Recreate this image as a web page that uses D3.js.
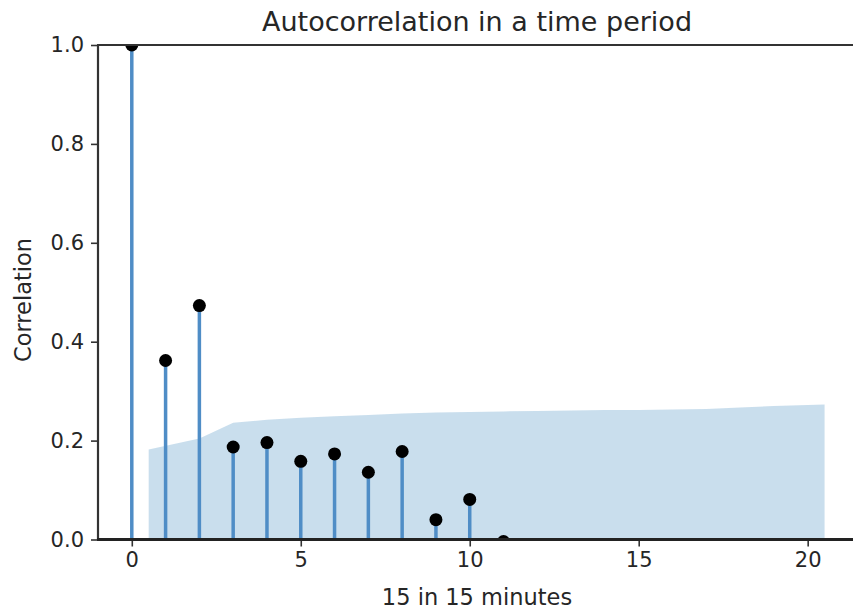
<!DOCTYPE html>
<html lang="en">
<head>
    <meta charset="UTF-8">
    <title>Autocorrelation in a time period</title>
    <script src="https://cdn.jsdelivr.net/npm/d3@7"></script>
    <style>
        body { margin: 0; background: #fff; }
        text { font-family: "DejaVu Sans", sans-serif; fill: #262626; }
        .stem { stroke: #4f8dc6; stroke-width: 3.5; }
        .dot { fill: #000; }
        .band { fill: #1f77b4; fill-opacity: 0.24; }
    </style>
</head>
<body>
    <svg width="853" height="614"></svg>
    <script>
        // autocorrelation by lag (lag 11 sits just under zero)
        var lags = [0, 1, 2, 3, 4, 5, 6, 7, 8, 9, 10, 11];
        var acf = [1.0, 0.362, 0.473, 0.187, 0.196, 0.158, 0.173, 0.136, 0.178, 0.040, 0.081, -0.004];

        // confidence band (upper edge, lower is the mirror)
        var bandLags = [0.5, 2, 3, 4, 5, 6, 7, 8, 9, 10, 11, 12, 13, 14, 15, 16, 17, 18, 19, 20.5];
        var bandUpper = [0.182, 0.204, 0.236, 0.242, 0.246, 0.249, 0.252, 0.255, 0.257, 0.258,
                         0.259, 0.260, 0.261, 0.262, 0.262, 0.263, 0.264, 0.267, 0.270, 0.273];

        var xTicks = [0, 5, 10, 15, 20];
        var yTicks = [0.0, 0.2, 0.4, 0.6, 0.8, 1.0];

        var svg = d3.select("svg"),
            mLeft = 98, mRight = 856, mTop = 45, mBottom = 539.5;

        var x = d3.scaleLinear().domain([-1, 21.43]).range([mLeft, mRight]),
            y = d3.scaleLinear().domain([0, 1]).range([mBottom, mTop]);

        svg.append("clipPath").attr("id", "plotclip")
            .append("rect")
            .attr("x", mLeft).attr("y", mTop)
            .attr("width", mRight - mLeft).attr("height", mBottom - mTop);

        var plot = svg.append("g").attr("clip-path", "url(#plotclip)");

        var band = d3.area()
            .x(function(d, i) { return x(bandLags[i]); })
            .y0(function(d) { return y(-d); })
            .y1(function(d) { return y(d); });

        plot.append("path")
            .datum(bandUpper)
            .attr("class", "band")
            .attr("d", band);

        plot.selectAll(".stem")
            .data(acf)
            .enter().append("line")
            .attr("class", "stem")
            .attr("x1", function(d, i) { return x(lags[i]); })
            .attr("x2", function(d, i) { return x(lags[i]); })
            .attr("y1", y(0))
            .attr("y2", function(d) { return y(d); });

        plot.selectAll(".dot")
            .data(acf)
            .enter().append("circle")
            .attr("class", "dot")
            .attr("cx", function(d, i) { return x(lags[i]); })
            .attr("cy", function(d) { return y(d); })
            .attr("r", 6.5);

        // axes
        var xAxis = svg.append("g")
            .attr("transform", "translate(0," + mBottom + ")")
            .call(d3.axisBottom(x).tickValues(xTicks).tickFormat(d3.format("d")).tickSize(7).tickPadding(6));

        var yAxis = svg.append("g")
            .attr("transform", "translate(" + mLeft + ",0)")
            .call(d3.axisLeft(y).tickValues(yTicks).tickFormat(d3.format(".1f")).tickSize(7).tickPadding(7));

        [xAxis, yAxis].forEach(function(a) {
            a.select(".domain").remove();
            a.selectAll(".tick line").attr("stroke", "#333").attr("stroke-width", 1.6);
            a.selectAll(".tick text").attr("font-size", "21px").attr("fill", "#262626");
        });

        // spines
        svg.append("line").attr("x1", mLeft).attr("x2", mLeft).attr("y1", mTop).attr("y2", mBottom)
            .attr("stroke", "#333").attr("stroke-width", 2.2);
        svg.append("line").attr("x1", mLeft - 1).attr("x2", 853).attr("y1", mTop).attr("y2", mTop)
            .attr("stroke", "#333").attr("stroke-width", 2.2);
        svg.append("line").attr("x1", mLeft - 1).attr("x2", 853).attr("y1", mBottom).attr("y2", mBottom)
            .attr("stroke", "#222").attr("stroke-width", 3);

        // labels
        svg.append("text")
            .attr("x", (mLeft + mRight) / 2).attr("y", 31)
            .attr("text-anchor", "middle")
            .attr("font-size", "27px")
            .text("Autocorrelation in a time period");

        svg.append("text")
            .attr("x", (mLeft + mRight) / 2).attr("y", 605)
            .attr("text-anchor", "middle")
            .attr("font-size", "22.5px")
            .text("15 in 15 minutes");

        svg.append("text")
            .attr("transform", "translate(31,300) rotate(-90)")
            .attr("text-anchor", "middle")
            .attr("font-size", "22.5px")
            .text("Correlation");
    </script>
</body>
</html>
